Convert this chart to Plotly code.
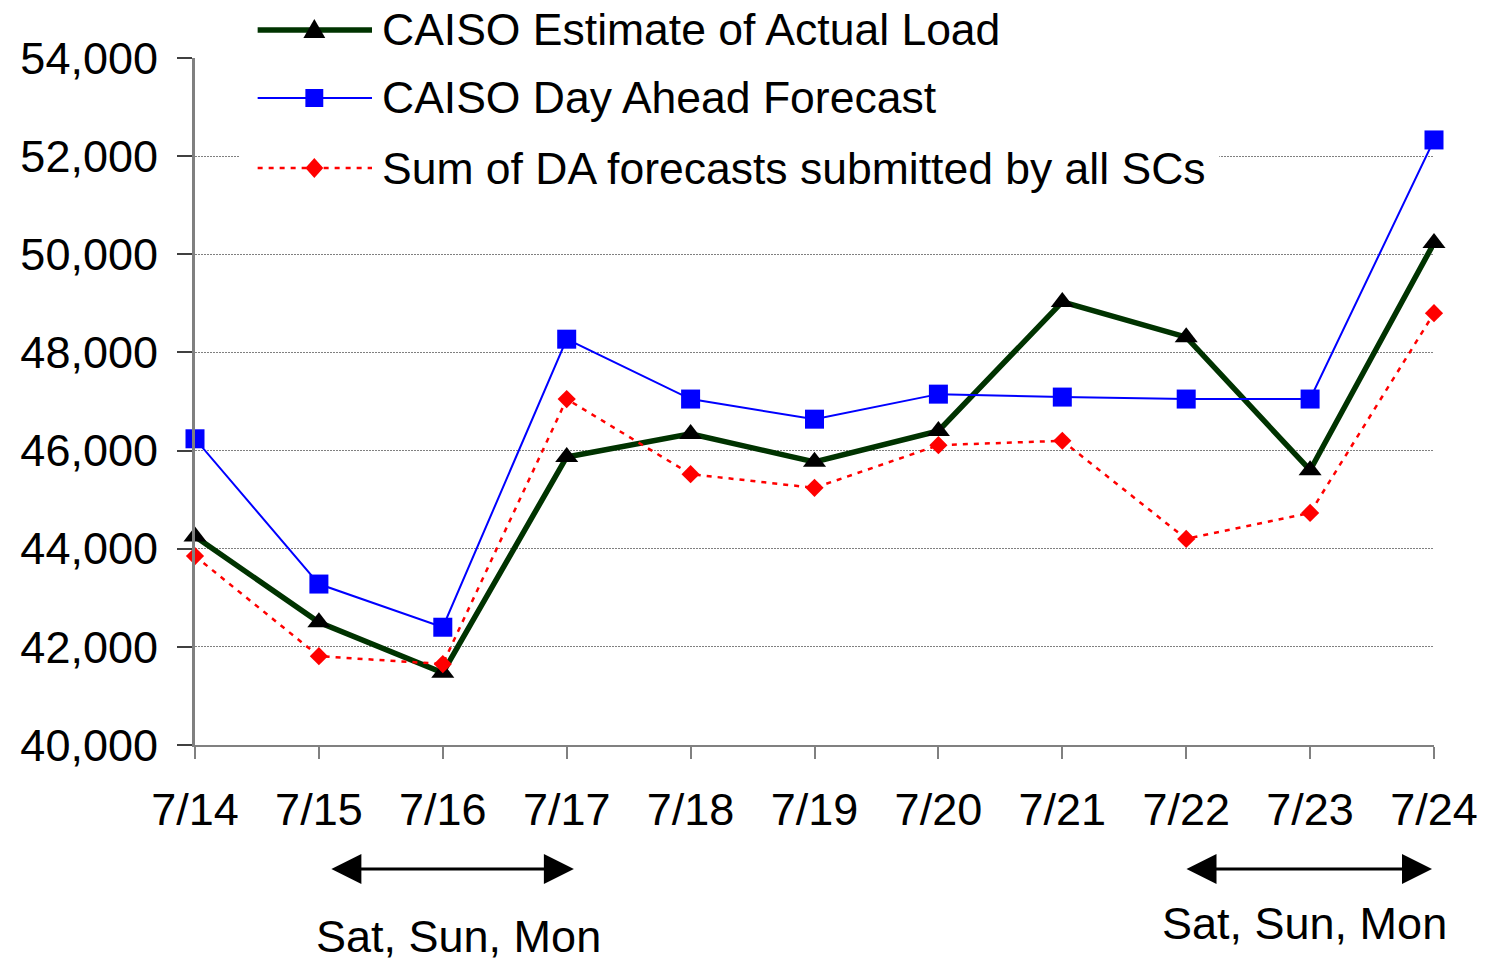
import plotly.graph_objects as go

# daily values (MW)
dates = ["7/14", "7/15", "7/16", "7/17", "7/18", "7/19", "7/20", "7/21", "7/22", "7/23", "7/24"]
actual_load = [44250, 42500, 41470, 45870, 46340, 45770, 46400, 49030, 48310, 45600, 50230]
caiso_da = [46240, 43280, 42400, 48270, 47050, 46640, 47150, 47090, 47050, 47050, 52330]
sc_sum_da = [43850, 41810, 41650, 47050, 45520, 45240, 46110, 46200, 44200, 44730, 48800]

names = ["CAISO Estimate of Actual Load", "CAISO Day Ahead Forecast",
         "Sum of DA forecasts submitted by all SCs"]

FONT = "Liberation Sans, Arial, sans-serif"
FS = 45
GREEN = "#003300"
BLUE = "#0000FF"
RED = "#FF0000"

# page has an 8px body margin, so the figure is made 8px smaller each way
OFF = 8
FIG_W, FIG_H = 1490 - OFF, 961 - OFF

# plot area in page pixels
L, R, T, B = 192, 1438, 58, 745
W, H = R - L, B - T


def px(x):  # page pixel -> paper x
    return (x - L) / W


def py(y):  # page pixel -> paper y
    return (B - y) / H


fig = go.Figure()
fig.add_trace(go.Scatter(x=dates, y=actual_load, name=names[0], mode="lines+markers",
                         line=dict(color=GREEN, width=5.5),
                         marker=dict(symbol="triangle-up", size=20, color="black"),
                         cliponaxis=False))
fig.add_trace(go.Scatter(x=dates, y=caiso_da, name=names[1], mode="lines+markers",
                         line=dict(color=BLUE, width=2),
                         marker=dict(symbol="square", size=19, color=BLUE),
                         cliponaxis=False))
fig.add_trace(go.Scatter(x=dates, y=sc_sum_da, name=names[2], mode="lines+markers",
                         line=dict(color=RED, width=2.5, dash="5px,6px"),
                         marker=dict(symbol="diamond", size=14, color=RED),
                         cliponaxis=False))

# hand-made legend box (wide line samples like the original)
shapes = [dict(type="rect", xref="paper", yref="paper", layer="above",
               x0=px(237), x1=px(1222), y0=py(195), y1=py(0),
               fillcolor="white", line=dict(width=0))]
annotations = []
rows = [30, 98, 168]
styles = [dict(color=GREEN, width=5.5), dict(color=BLUE, width=2),
          dict(color=RED, width=2.5, dash="5px,6px")]
for ry, st, nm in zip(rows, styles, names):
    shapes.append(dict(type="line", xref="paper", yref="paper", layer="above",
                       x0=px(255), x1=px(370), y0=py(ry), y1=py(ry), line=st))
    annotations.append(dict(text=nm, xref="paper", yref="paper", x=px(379), y=py(ry),
                            xanchor="left", yanchor="middle", showarrow=False, borderpad=0,
                            font=dict(family=FONT, size=44.5, color="black")))
mx = 312
shapes.append(dict(type="path", xref="paper", yref="paper", layer="above",
                   path=f"M{px(mx)},{py(rows[0] - 11)} L{px(mx + 11)},{py(rows[0] + 8)} "
                        f"L{px(mx - 11)},{py(rows[0] + 8)} Z",
                   fillcolor="black", line=dict(width=0)))
shapes.append(dict(type="rect", xref="paper", yref="paper", layer="above",
                   x0=px(mx - 9), x1=px(mx + 9), y0=py(rows[1] + 9), y1=py(rows[1] - 9),
                   fillcolor=BLUE, line=dict(width=0)))
shapes.append(dict(type="path", xref="paper", yref="paper", layer="above",
                   path=f"M{px(mx)},{py(rows[2] - 10)} L{px(mx + 9)},{py(rows[2])} "
                        f"L{px(mx)},{py(rows[2] + 10)} L{px(mx - 9)},{py(rows[2])} Z",
                   fillcolor=RED, line=dict(width=0)))

# weekend double arrows (solid triangular heads) and labels
for tip_l, tip_r, txt_x, txt_y in [(330, 572, 457, 936), (1190, 1435, 1308, 924)]:
    annotations.append(dict(text="", xref="paper", yref="paper",
                            x=px(tip_r + 1), y=py(869), ax=(tip_l - 1) - (tip_r + 1), ay=0,
                            showarrow=True, arrowside="end+start", arrowhead=2,
                            startarrowhead=2, arrowsize=2.0, startarrowsize=2.0,
                            arrowwidth=3, arrowcolor="black"))
    annotations.append(dict(text="Sat, Sun, Mon", xref="paper", yref="paper",
                            x=px(txt_x), y=py(txt_y), xanchor="center", yanchor="middle",
                            showarrow=False, font=dict(family=FONT, size=FS, color="black")))

fig.update_layout(
    width=FIG_W, height=FIG_H,
    margin=dict(l=L - OFF, r=1490 - R, t=T - OFF, b=961 - B),
    paper_bgcolor="white", plot_bgcolor="white",
    showlegend=False,
    font=dict(family=FONT, size=FS, color="black"),
    shapes=shapes, annotations=annotations,
)
fig.update_xaxes(type="category", range=[0, 10], showgrid=False,
                 showline=True, linecolor="#808080", linewidth=2,
                 ticks="outside", ticklen=12, tickwidth=2, tickcolor="#808080",
                 ticklabelstandoff=12, tickfont=dict(size=FS))
fig.update_yaxes(range=[40000, 54000], dtick=2000, tickformat=",",
                 showgrid=True, gridcolor="#808080", gridwidth=1, griddash="2px,1px",
                 showline=True, linecolor="#808080", linewidth=3,
                 ticks="outside", ticklen=15, tickwidth=2, tickcolor="#404040",
                 ticklabelstandoff=10, tickfont=dict(size=FS), zeroline=False)

fig.write_html("out.html")
